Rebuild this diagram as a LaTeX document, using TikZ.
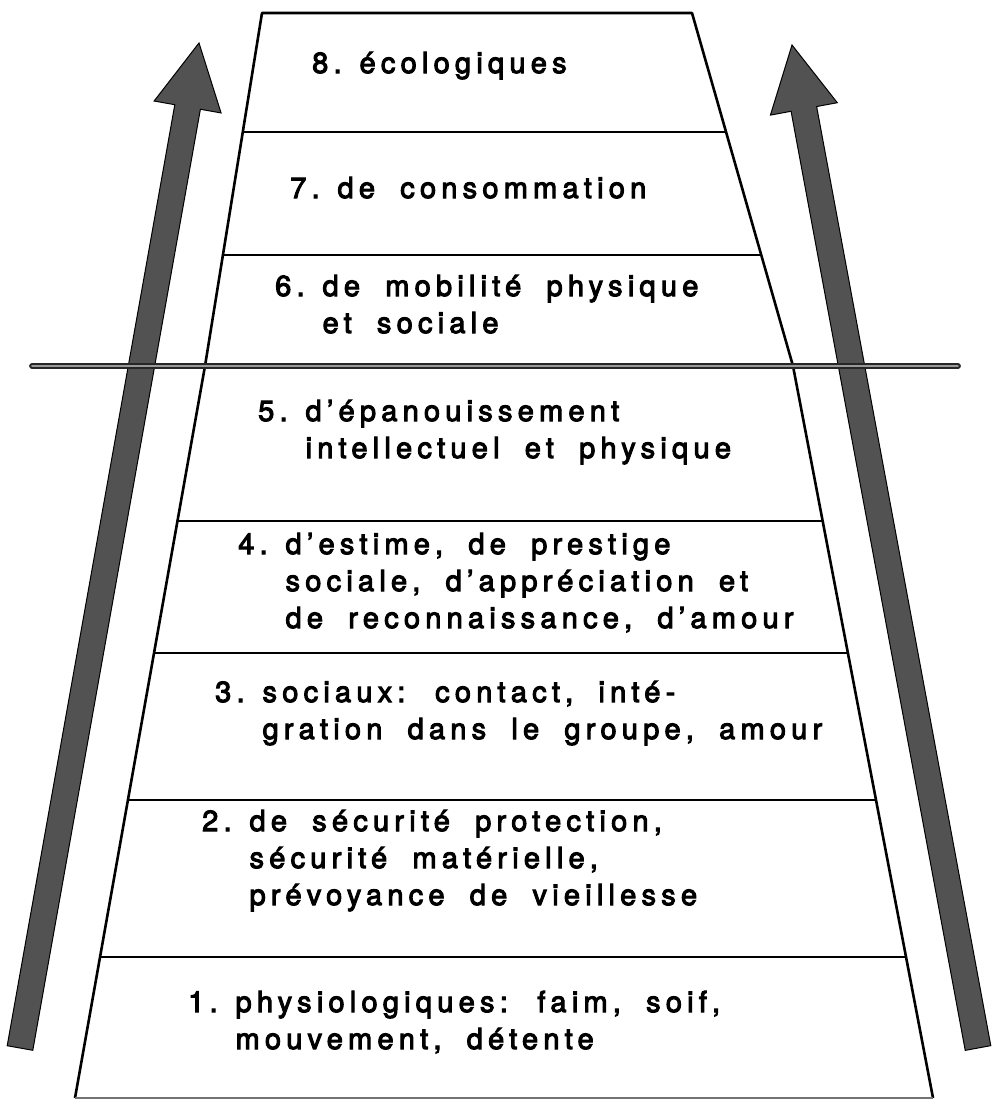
\documentclass[tikz,border=0pt]{standalone}
\usepackage{fontspec}
\setmainfont{TeX Gyre Heros}[LetterSpace=18,WordSpace=1.9,FakeBold=3.5]
\usetikzlibrary{calc}
\newcommand\levelfont{\fontsize{29}{37}\selectfont}
\newcommand\lvl[2]{\begin{tabular}[t]{@{}l@{\hspace{18pt}}l@{}}#1&#2\end{tabular}}
\tikzset{edge/.style={line width=2.6pt,line join=round},
  sep/.style={line width=1.8pt},
  bar/.style={line width=2pt,double=black!40,double distance=1.8pt,line cap=round,draw=black!85},
  level/.style={anchor=base west,inner sep=0pt,font=\levelfont},
  arrowfill/.style={fill=black!68,draw=black,line width=1pt}}
% fat arrow from #1 (foot) to #2 (tip)
\newcommand\fatarrow[2]{%
  \coordinate (#1h) at ($(#2)!65pt!(#1)$);
  \filldraw[arrowfill] ($(#1)!13pt!90:(#2)$) -- ($(#1h)!13pt!90:(#2)$)
    -- ($(#1h)!34pt!90:(#2)$) -- (#2) -- ($(#1h)!34pt!-90:(#2)$)
    -- ($(#1h)!13pt!-90:(#2)$) -- ($(#1)!13pt!-90:(#2)$) -- cycle;}

\begin{document}
\begin{tikzpicture}[x=1pt,y=-1pt]
\useasboundingbox (0,0) rectangle (993,1100);
% arrows
\coordinate (lfoot) at (20,1048);
\coordinate (ltip) at (199,43);
\coordinate (rfoot) at (978,1048);
\coordinate (rtip) at (792,45);
\fatarrow{lfoot}{ltip}
\fatarrow{rfoot}{rtip}
% pyramid
\coordinate (tl) at (262,13);
\coordinate (tr) at (692,13);
\coordinate (ml) at (205,366);
\coordinate (mr) at (793,366);
\coordinate (bl) at (75,1098);
\coordinate (br) at (933,1098);
\draw[edge] (bl) -- (ml) -- (tl) -- (tr) -- (mr) -- (br);
\draw[sep,black!55] (bl) -- (br);
\foreach \t in {0.337,0.686}
  \draw[sep] ($(tl)!\t!(ml)$) -- ($(tr)!\t!(mr)$);
\foreach \t in {0.212,0.392,0.593,0.807}
  \draw[sep] ($(ml)!\t!(bl)$) -- ($(mr)!\t!(br)$);
% dividing line
\coordinate (barl) at (32,366);
\coordinate (barr) at (958,366);
\draw[bar] (barl) -- (barr);
% levels
\node[level] (l8) at (312,73) {\lvl{8.}{écologiques}};
\node[level] (l7) at (290,198) {\lvl{7.}{de consommation}};
\node[level] (l6) at (275,296) {\lvl{6.}{de mobilité physique\\ & et sociale}};
\node[level] (l5) at (258,421) {\lvl{5.}{d'épanouissement\\ & intellectuel et physique}};
\node[level] (l4) at (238,554) {\lvl{4.}{d'estime, de prestige\\ & sociale, d'appréciation et\\ & de reconnaissance, d'amour}};
\node[level] (l3) at (215,702) {\lvl{3.}{sociaux: contact, inté-\\ & gration dans le groupe, amour}};
\node[level] (l2) at (202,831) {\lvl{2.}{de sécurité protection,\\ & sécurité matérielle,\\ & prévoyance de vieillesse}};
\node[level] (l1) at (188,1012) {\lvl{1.}{physiologiques: faim, soif,\\ & mouvement, détente}};
\end{tikzpicture}
\end{document}
